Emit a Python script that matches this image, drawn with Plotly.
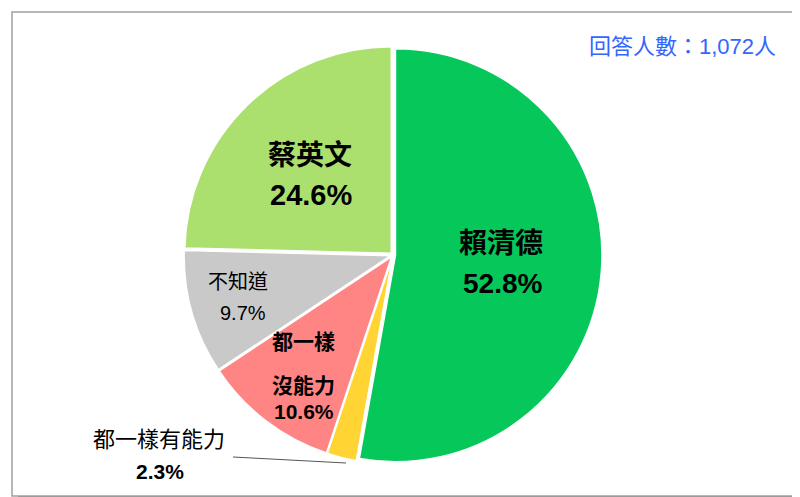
import plotly.graph_objects as go

labels = ["賴清德", "都一樣有能力", "都一樣沒能力", "不知道", "蔡英文"]
values = [52.8, 2.3, 10.6, 9.7, 24.6]
colors = ["#06C75A", "#FFD433", "#FF8585", "#C9C9C9", "#ABE06E"]
respondents = "回答人數：1,072人"

W, H = 800, 497
FONT = "Arial, 'Liberation Sans', 'Noto Sans CJK TC'"

def px(x):
    return x / W

def py(y):
    return 1 - y / H

cx, cy, r = 385, 247, 209
fig = go.Figure(go.Pie(
    labels=labels, values=values, sort=False, direction="clockwise", rotation=0,
    marker=dict(colors=colors, line=dict(color="white", width=1.5)),
    pull=[0.012] * len(values),
    textinfo="none", hoverinfo="label+percent", showlegend=False,
    domain=dict(x=[px(cx - r), px(cx + r)], y=[py(cy + r), py(cy - r)]),
))

def ann(x, y, text, size, bold=True, color="black", xanchor="center"):
    t = f"<b>{text}</b>" if bold else text
    return dict(x=px(x), y=py(y), xref="paper", yref="paper", text=t, showarrow=False,
                font=dict(size=size, color=color, family=FONT), xanchor=xanchor, yanchor="middle")

pct = [f"{v:.1f}%" for v in values]
annotations = [
    ann(493, 235, labels[0], 28), ann(494, 275, pct[0], 28),
    ann(302, 148, labels[4], 28), ann(303, 187, pct[4], 29),
    ann(230, 274, labels[3], 20, bold=False), ann(235, 305, pct[3], 20, bold=False),
    ann(295, 333, "都一樣", 21), ann(295, 377, "沒能力", 21), ann(296, 403, pct[2], 21),
    ann(151, 431, labels[1], 22, bold=False), ann(152, 463, pct[1], 21),
    ann(770, 39, respondents, 22, bold=False, color="#3366FF", xanchor="right"),
]

shapes = [
    # shadow
    dict(type="rect", xref="paper", yref="paper", x0=px(10), x1=px(797), y0=py(496), y1=py(10),
         fillcolor="#8A8A8A", line=dict(width=0), layer="below"),
    dict(type="rect", xref="paper", yref="paper", x0=px(4), x1=px(790), y0=py(488), y1=py(4),
         fillcolor="white", line=dict(color="#A0A0A0", width=1.5), layer="below"),
    # leader line
    dict(type="line", xref="paper", yref="paper", x0=px(225), y0=py(449), x1=px(338), y1=py(455),
         line=dict(color="#555555", width=1)),
]

fig.update_layout(
    width=W, height=H, margin=dict(l=0, r=0, t=0, b=0),
    paper_bgcolor="white", plot_bgcolor="white",
    annotations=annotations, shapes=shapes,
)
fig.write_html("out.html")
